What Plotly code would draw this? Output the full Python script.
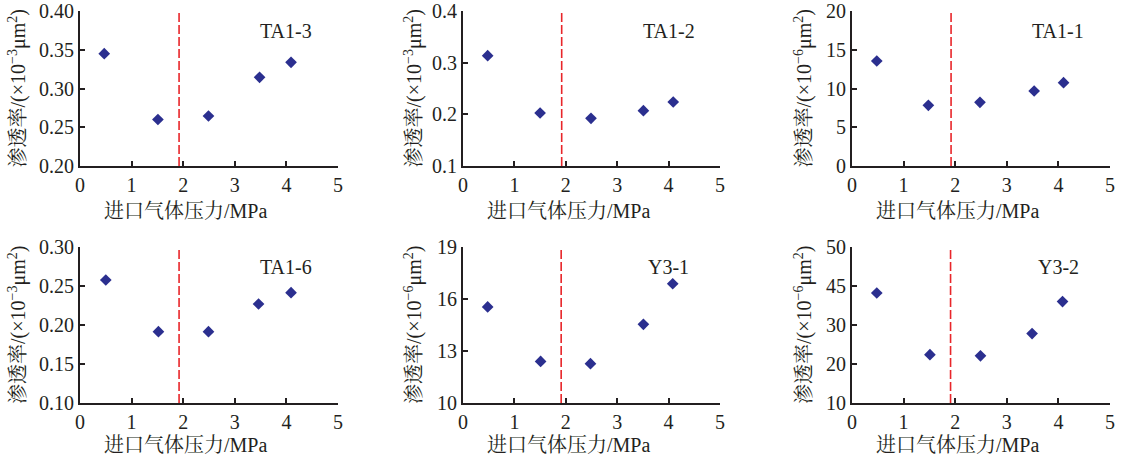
import plotly.graph_objects as go

# ---- data ----
samples = ["TA1-3", "TA1-2", "TA1-1", "TA1-6", "Y3-1", "Y3-2"]

p_TA1_3 = [0.47, 1.51, 2.49, 3.48, 4.09]
k_TA1_3 = [0.345, 0.260, 0.2645, 0.3144, 0.3338]

p_TA1_2 = [0.48, 1.50, 2.49, 3.51, 4.09]
k_TA1_2 = [0.3135, 0.2026, 0.1923, 0.2071, 0.2239]

p_TA1_1 = [0.48, 1.48, 2.48, 3.53, 4.10]
k_TA1_1 = [13.55, 7.83, 8.22, 9.68, 10.75]

p_TA1_6 = [0.50, 1.52, 2.49, 3.46, 4.09]
k_TA1_6 = [0.2577, 0.1915, 0.1915, 0.2269, 0.2415]

p_Y3_1 = [0.48, 1.51, 2.48, 3.51, 4.08]
k_Y3_1 = [15.54, 12.40, 12.27, 14.54, 16.88]

p_Y3_2 = [0.48, 1.51, 2.49, 3.49, 4.08]
k_Y3_2 = [38.2, 22.4, 22.1, 27.8, 36.0]

threshold_pressure = [1.92, 1.92, 1.92, 1.92, 1.91, 1.91]

x_ticks = [0, 1, 2, 3, 4, 5]
y_ticks = [
    [0.20, 0.25, 0.30, 0.35, 0.40],
    [0.1, 0.2, 0.3, 0.4],
    [0, 5, 10, 15, 20],
    [0.10, 0.15, 0.20, 0.25, 0.30],
    [10, 13, 16, 19],
    [10, 20, 30, 40, 50],
]
y_ticktext = [
    ["0.20", "0.25", "0.30", "0.35", "0.40"],
    ["0.1", "0.2", "0.3", "0.4"],
    ["0", "5", "10", "15", "20"],
    ["0.10", "0.15", "0.20", "0.25", "0.30"],
    ["10", "13", "16", "19"],
    ["10", "20", "30", "45", "50"],
]
exponents = ["3", "3", "6", "3", "6", "6"]
x_title = "进口气体压力/MPa"

pressures = [p_TA1_3, p_TA1_2, p_TA1_1, p_TA1_6, p_Y3_1, p_Y3_2]
perms = [k_TA1_3, k_TA1_2, k_TA1_1, k_TA1_6, k_Y3_1, k_Y3_2]

# ---- layout geometry ----
W, H = 1127, 458
col_px = [(80, 338), (463, 720), (852, 1110)]
row_px = [(11, 166), (247, 403)]
xtitle_dy = [45, 42]
ytitle_px = [17, 413, 803]
xtitle_px = [185, 568, 957]

FONT = "Liberation Serif, Times New Roman, Noto Serif CJK SC, Noto Sans CJK SC, serif"
TXT = "#231f20"
MARK = "#2b2f8f"
RED = "#e8262a"
FS = 20

fig = go.Figure()
annotations = []
layout = dict(
    width=W, height=H, margin=dict(l=0, r=0, t=0, b=0, autoexpand=False),
    paper_bgcolor="white", plot_bgcolor="white", showlegend=False,
    font=dict(family=FONT, size=FS, color=TXT),
)

for i in range(6):
    r, c = divmod(i, 3)
    n = i + 1
    xa = "x" if n == 1 else f"x{n}"
    ya = "y" if n == 1 else f"y{n}"
    x0, x1 = col_px[c]
    top, bot = row_px[r]
    yr = [y_ticks[i][0], y_ticks[i][-1]]

    fig.add_trace(go.Scatter(
        x=pressures[i], y=perms[i], mode="markers", xaxis=xa, yaxis=ya,
        marker=dict(symbol="diamond", size=9, color=MARK),
    ))
    fig.add_trace(go.Scatter(
        x=[threshold_pressure[i], threshold_pressure[i]], y=yr, mode="lines",
        xaxis=xa, yaxis=ya, line=dict(color=RED, width=1.6, dash="9px,3px"),
    ))

    axcommon = dict(
        showgrid=False, zeroline=False, showline=True, linecolor="#231f20",
        linewidth=2, ticks="inside", ticklen=5, tickwidth=2, tickcolor="#231f20",
        tickfont=dict(family=FONT, size=FS, color=TXT), automargin=False,
        fixedrange=True,
    )
    layout["xaxis" if n == 1 else f"xaxis{n}"] = dict(
        axcommon, domain=[x0 / W, x1 / W], range=[0, 5], tickvals=x_ticks,
        anchor=ya,
    )
    layout["yaxis" if n == 1 else f"yaxis{n}"] = dict(
        axcommon, domain=[1 - bot / H, 1 - top / H], range=yr,
        tickvals=y_ticks[i], ticktext=y_ticktext[i], anchor=xa,
    )

    # sample label
    annotations.append(dict(
        text=samples[i], xref=f"{xa} domain", yref=f"{ya} domain",
        x=0.80, y=0.87, showarrow=False, xanchor="center", yanchor="middle",
        font=dict(family=FONT, size=FS, color=TXT),
    ))
    # x title
    annotations.append(dict(
        text=x_title, xref="paper", yref="paper",
        x=xtitle_px[c] / W, y=1 - (bot + xtitle_dy[r]) / H,
        showarrow=False, xanchor="center", yanchor="middle",
        font=dict(family=FONT, size=FS, color=TXT),
    ))
    # y title
    annotations.append(dict(
        text=f"渗透率/(×10<sup>−{exponents[i]}</sup>μm<sup>2</sup>)",
        xref="paper", yref="paper",
        x=ytitle_px[c] / W, y=1 - ((top + bot) / 2) / H, textangle=-90,
        showarrow=False, xanchor="center", yanchor="middle",
        font=dict(family=FONT, size=FS, color=TXT),
    ))

layout["annotations"] = annotations
fig.update_layout(**layout)
fig.write_html(
    "out.html",
    config={"displayModeBar": False, "staticPlot": True},
    post_script="document.body.style.margin='0';document.body.style.overflow='hidden';",
)
